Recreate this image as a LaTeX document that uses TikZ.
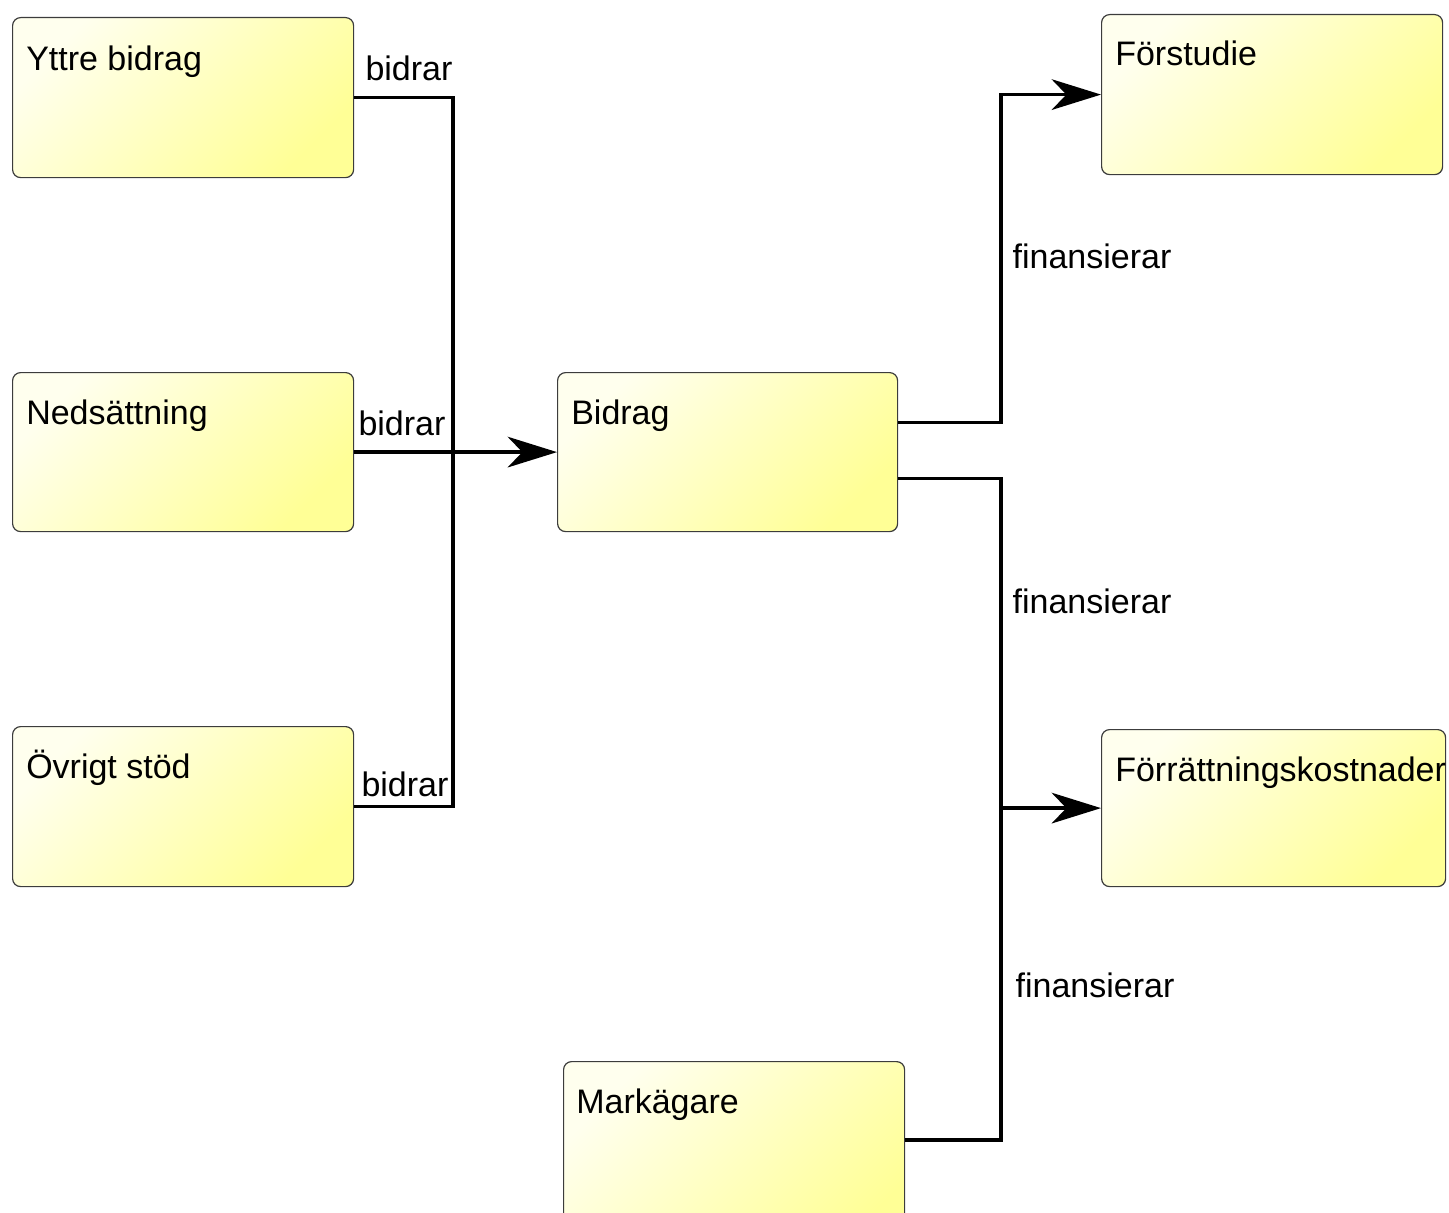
\documentclass[tikz,border=0pt]{standalone}
\usepackage{fontspec}
\setmainfont{Liberation Sans}
\usetikzlibrary{arrows.meta,calc}
\definecolor{boxyellow}{RGB}{255,255,150}
\definecolor{boxlight}{RGB}{255,255,238}
\definecolor{boxline}{RGB}{60,60,60}
\tikzset{
  box/.style={draw=boxline, line width=0.9pt, rounded corners=6pt,
    shading=axis, top color=boxlight, bottom color=boxyellow, shading angle=45,
    anchor=north west, inner sep=0pt, minimum width=255.75pt, minimum height=120pt},
  title/.style={anchor=base west, inner sep=0pt, font=\fontsize{25.5}{30}\selectfont},
  role/.style={anchor=base, inner sep=0pt, font=\fontsize{25.5}{30}\selectfont},
  conn/.style={line width=2.5pt, black, line join=miter,
    -{Stealth[length=37pt, width=23pt, inset=11pt]}},
  plain/.style={line width=2.5pt, black, line join=miter},
}
\begin{document}
\begin{tikzpicture}[x=0.75pt, y=-0.75pt]
\useasboundingbox (0,0) rectangle (1449,1213);
\clip (0,0) rectangle (1449,1213);

% classes
\node[box] (yb) at (12,17) {};
\node[box, minimum height=119.25pt] (ned) at (12,372) {};
\node[box] (ovr) at (12,726) {};
\node[box, minimum width=255pt, minimum height=119.25pt] (bid) at (557,372) {};
\node[box] (fst) at (1101,14) {};
\node[box, minimum width=258pt, minimum height=117.75pt] (frk) at (1101,729) {};
\node[box, minimum height=150pt] (mark) at (563,1061) {};

\node[title] (tyb) at ($(yb.north west)+(14,53)$) {Yttre bidrag};
\node[title] (tned) at ($(ned.north west)+(14,52)$) {Nedsättning};
\node[title] (tovr) at ($(ovr.north west)+(14,52)$) {Övrigt stöd};
\node[title] (tbid) at ($(bid.north west)+(14,52)$) {Bidrag};
\node[title] (tfst) at ($(fst.north west)+(14,52)$) {Förstudie};
\node[title] (tfrk) at ($(frk.north west)+(14,52)$) {Förrättningskostnader};
\node[title] (tmark) at ($(mark.north west)+(13,52)$) {Markägare};

% junction columns and edge start points
\coordinate (jl) at (453,0);
\coordinate (jr) at (1001,0);
\coordinate (bidup) at ($(bid.east)+(0,-29.5)$);
\coordinate (biddn) at ($(bid.east)+(0,26.5)$);
\coordinate (markout) at ($(mark.north east)+(0,79)$);

% contributions into Bidrag
\draw[plain] (yb.east) -- (yb.east -| jl) -- (jl |- bid.west);
\draw[plain] (ovr.east) -- (ovr.east -| jl) -- (jl |- bid.west);
\draw[conn] (ned.east) -- (bid.west);

% financing
\draw[conn] (bidup) -- (bidup -| jr) -- (jr |- fst.west) -- (fst.west);
\draw[plain] (biddn) -- (biddn -| jr) -- (jr |- frk.west);
\draw[conn] (markout) -- (markout -| jr) -- (jr |- frk.west) -- (frk.west);

% role labels
\node[role] (l1) at (409,81) {bidrar};
\node[role] (l2) at (402,435) {bidrar};
\node[role] (l3) at (405,796) {bidrar};
\node[role] (l4) at (1092,268) {finansierar};
\node[role] (l5) at (1092,613) {finansierar};
\node[role] (l6) at (1095,997) {finansierar};
\end{tikzpicture}
\end{document}
